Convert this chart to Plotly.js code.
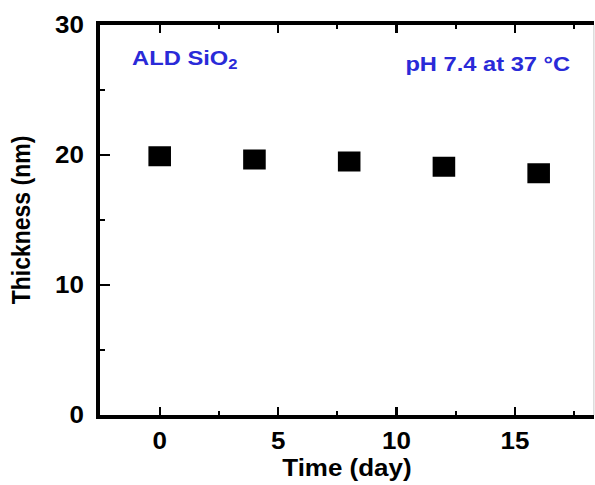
<!DOCTYPE html>
<html>
<head>
<meta charset="utf-8">
<script src="https://cdn.plot.ly/plotly-3.0.1.min.js"></script>
<style>
  html, body { margin: 0; padding: 0; background: #fff; overflow: hidden; }
  /* the figure is drawn slightly narrower and widened to fill the page */
  #chart { width: 527px; height: 485px; transform: scaleX(1.129); transform-origin: 0 0; }
</style>
</head>
<body>
<div id="chart"></div>
<script>
// Film thickness of ALD SiO2 during soaking in buffer (pH 7.4, 37 °C)
const days = [0, 4, 8, 12, 16];
const thicknessNm = [19.9, 19.65, 19.5, 19.1, 18.6];

const xTickVals = [0, 5, 10, 15];
const yTickVals = [0, 10, 20, 30];

const tickFont = { family: 'Arial, "Liberation Sans", sans-serif', size: 23, color: '#000', weight: 'bold' };
const titleFont = { family: 'Arial, "Liberation Sans", sans-serif', size: 23, color: '#000', weight: 'bold' };
const noteFont = { family: 'Arial, "Liberation Sans", sans-serif', size: 21, color: '#2a2ad8', weight: 'bold' };

const trace = {
  x: days,
  y: thicknessNm,
  type: 'scatter',
  mode: 'markers',
  marker: { symbol: 'square', size: 20, color: '#000' },
  hoverinfo: 'x+y'
};

const layout = {
  width: 527,
  height: 485,
  margin: { l: 89, r: 1, t: 25, b: 70 },
  paper_bgcolor: '#fff',
  plot_bgcolor: '#fff',
  showlegend: false,
  xaxis: {
    range: [-2.5, 18.33],
    tickvals: xTickVals,
    ticktext: xTickVals.map(String),
    ticks: 'inside',
    ticklen: 8,
    tickwidth: 2,
    tickcolor: '#000',
    minor: { dtick: 2.5, tick0: 0, ticks: 'inside', ticklen: 4, tickwidth: 2, tickcolor: '#000' },
    showline: true,
    linewidth: 4,
    linecolor: '#000',
    mirror: 'ticks',
    showgrid: false,
    zeroline: false,
    tickfont: tickFont,
    ticklabelstandoff: 2
  },
  yaxis: {
    range: [0, 30],
    tickvals: yTickVals,
    ticktext: yTickVals.map(String),
    ticks: 'inside',
    ticklen: 8,
    tickwidth: 2,
    tickcolor: '#000',
    minor: { dtick: 5, tick0: 0, ticks: 'inside', ticklen: 4, tickwidth: 2, tickcolor: '#000' },
    showline: true,
    linewidth: 4,
    linecolor: '#000',
    showgrid: false,
    zeroline: false,
    tickfont: tickFont,
    ticklabelstandoff: 6,
    title: { text: 'Thickness (nm)', font: titleFont, standoff: 16 }
  },
  shapes: [
    { type: 'line', xref: 'paper', yref: 'paper', x0: 1, x1: 1, y0: 0, y1: 1,
      line: { color: '#cfcfcf', width: 1 } }
  ],
  annotations: [
    // x-axis title, set just under the tick labels
    { xref: 'paper', yref: 'paper', x: 0.5, y: -0.137, xanchor: 'center', yanchor: 'middle',
      text: 'Time (day)', showarrow: false, font: titleFont },
    { xref: 'paper', yref: 'paper', x: 0.06, y: 0.912, xanchor: 'left', yanchor: 'middle',
      text: 'ALD SiO<sub>2</sub>', showarrow: false, font: noteFont },
    { xref: 'paper', yref: 'paper', x: 0.957, y: 0.9, xanchor: 'right', yanchor: 'middle',
      text: 'pH 7.4 at 37 °C', showarrow: false, font: noteFont }
  ]
};

Plotly.newPlot('chart', [trace], layout, { displayModeBar: false, staticPlot: true });
</script>
</body>
</html>
